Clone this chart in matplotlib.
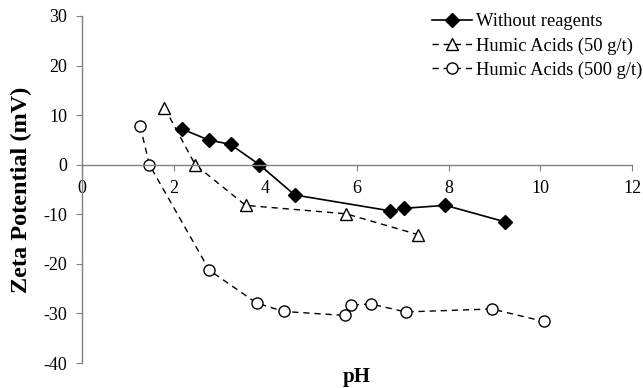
import matplotlib
matplotlib.use("Agg")
import matplotlib.pyplot as plt

plt.rcParams['font.family'] = ['Liberation Serif', 'DejaVu Serif']
plt.rcParams['axes.unicode_minus'] = False

ph_none = [2.18, 2.76, 3.24, 3.87, 4.64, 6.72, 7.02, 7.93, 9.22]
zp_none = [7.2, 5.0, 4.1, 0.0, -6.1, -9.3, -8.8, -8.2, -11.5]

ph_50 = [1.80, 2.47, 3.57, 5.76, 7.33]
zp_50 = [11.5, 0.0, -8.2, -9.9, -14.1]

ph_500 = [1.27, 1.47, 2.78, 3.81, 4.40, 5.73, 5.86, 6.31, 7.06, 8.94, 10.07]
zp_500 = [7.8, 0.0, -21.3, -27.9, -29.6, -30.4, -28.3, -28.1, -29.7, -29.1, -31.6]

labels = ['Without reagents', 'Humic Acids (50 g/t)', 'Humic Acids (500 g/t)']
xticks = [0, 2, 4, 6, 8, 10, 12]
yticks = [-40, -30, -20, -10, 0, 10, 20, 30]

fig = plt.figure(figsize=(6.43, 3.88), dpi=100)
ax = fig.add_axes([0.1275, 0.0644, 0.8555, 0.8944])

ax.plot(ph_none, zp_none, '-', color='black', lw=1.2, marker='D', ms=7,
        mfc='black', mec='black', label=labels[0])
ax.plot(ph_50, zp_50, color='black', lw=1.0, dashes=(4.5, 3.5), marker='^', ms=8,
        mfc='white', mec='black', label=labels[1])
ax.plot(ph_500, zp_500, color='black', lw=1.0, dashes=(4.5, 3.5), marker='o', ms=8,
        mfc='white', mec='black', label=labels[2])

ax.set_xlim(0, 12)
ax.set_ylim(-40, 30)
ax.set_xticks(xticks)
ax.set_yticks(yticks)
ax.spines['top'].set_visible(False)
ax.spines['right'].set_visible(False)
ax.spines['bottom'].set_position(('data', 0))
for s in ('left', 'bottom'):
    ax.spines[s].set_color('#808080')
    ax.spines[s].set_linewidth(1.0)
ax.tick_params(axis='both', colors='#808080', labelcolor='black', labelsize=13, length=4)
ax.tick_params(axis='y', pad=6.5)
ax.tick_params(axis='x', pad=7)

ax.text(0.5, -0.04, 'pH', transform=ax.transAxes, ha='center', va='center',
        fontsize=15, fontweight='bold')
ax.set_ylabel('Zeta Potential (mV)', fontsize=17.5, fontweight='bold')
ax.yaxis.set_label_coords(-0.09, 0.5)

leg = ax.legend(loc='upper left', bbox_to_anchor=(0.6225, 1.029), frameon=False,
                fontsize=13.3, handlelength=2.15, handletextpad=0.25, labelspacing=0.38,
                borderaxespad=0)

fig.savefig('out.png', dpi=100)
